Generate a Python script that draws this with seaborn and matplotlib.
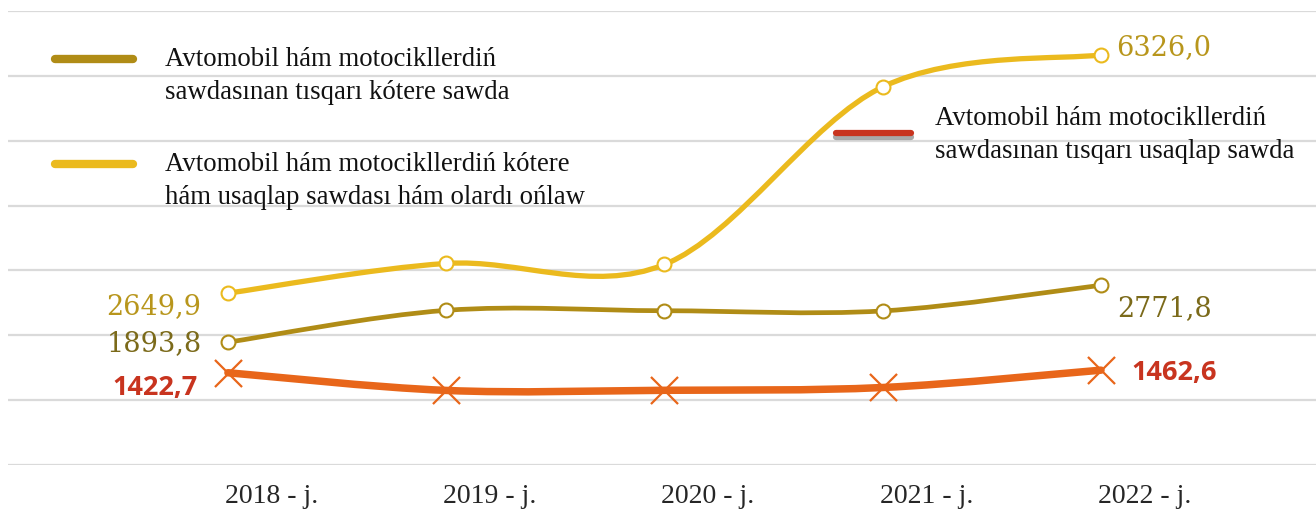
import numpy as np
import pandas as pd
import matplotlib.pyplot as plt
import seaborn as sns
from matplotlib.path import Path
from matplotlib.patches import PathPatch
from matplotlib.lines import Line2D
import matplotlib.patheffects as pe

# data
years = ["2018 - j.", "2019 - j.", "2020 - j.", "2021 - j.", "2022 - j."]
retail_repair = [2649.9, 3108.0, 3092.0, 5831.0, 6326.0]      # yellow
wholesale = [1893.8, 2385.0, 2379.0, 2376.0, 2771.8]          # olive
retail_other = [1422.7, 1150.0, 1152.0, 1195.0, 1462.6]       # orange

legend_wholesale = ["Avtomobil hám motocikllerdiń", "sawdasınan tısqarı kótere sawda"]
legend_retail_repair = ["Avtomobil hám motocikllerdiń kótere", "hám usaqlap sawdası hám olardı ońlaw"]
legend_retail_other = ["Avtomobil hám motocikllerdiń", "sawdasınan tısqarı usaqlap sawda"]

YELLOW = "#EBBA1E"
OLIVE = "#B08C16"
ORANGE = "#E8661A"
RED = "#C8341F"
GOLD_TXT = "#B8961C"
OLIVE_TXT = "#7B6A1A"

sns.set_theme(style="white")
plt.rcParams["font.family"] = ["Liberation Serif", "DejaVu Serif"]


def smooth_path(xs, ys):
    # excel-like smoothed line: catmull-rom turned into cubic bezier pieces
    xs = np.asarray(xs, float)
    ys = np.asarray(ys, float)
    n = len(xs)
    verts = [(xs[0], ys[0])]
    codes = [Path.MOVETO]
    for i in range(n - 1):
        i0 = max(i - 1, 0)
        i3 = min(i + 2, n - 1)
        c1 = (xs[i] + (xs[i + 1] - xs[i0]) / 6, ys[i] + (ys[i + 1] - ys[i0]) / 6)
        c2 = (xs[i + 1] - (xs[i3] - xs[i]) / 6, ys[i + 1] - (ys[i3] - ys[i]) / 6)
        verts += [c1, c2, (xs[i + 1], ys[i + 1])]
        codes += [Path.CURVE4] * 3
    return Path(verts, codes)


df = pd.DataFrame({"x": np.arange(len(years)), "year": years,
                   "retail_repair": retail_repair, "wholesale": wholesale,
                   "retail_other": retail_other})

fig = plt.figure(figsize=(13.16, 5.10), dpi=100)
ax = fig.add_axes([0.006, 0.0863, 0.994, 0.890])

for col, color, lw in [("retail_repair", YELLOW, 3.8),
                       ("wholesale", OLIVE, 3.4),
                       ("retail_other", ORANGE, 5.4)]:
    patch = PathPatch(smooth_path(df["x"], df[col]), fill=False, edgecolor=color,
                      lw=lw, capstyle="round", joinstyle="round", zorder=3)
    ax.add_patch(patch)

sns.scatterplot(data=df, x="x", y="retail_repair", marker="o", s=100, color="white",
                edgecolor=YELLOW, linewidth=1.5, zorder=5, ax=ax)
sns.scatterplot(data=df, x="x", y="wholesale", marker="o", s=100, color="white",
                edgecolor=OLIVE, linewidth=1.5, zorder=5, ax=ax)
sns.scatterplot(data=df, x="x", y="retail_other", marker="x", s=380, color=ORANGE,
                linewidth=1.6, zorder=5, ax=ax)

# value labels at the first and last year
def lab(x, y, txt, dx, dy, ha, color, **kw):
    ax.annotate(txt, (x, y), xytext=(dx, dy), textcoords="offset points",
                ha=ha, va="center", color=color, zorder=6, **kw)

fmt = lambda v: f"{v:.1f}".replace(".", ",")
serif_num = dict(fontsize=19.5, family=["DejaVu Serif"])
sans_bold = dict(fontsize=19.5, family=["Open Sans", "DejaVu Sans"], fontweight="bold")
lab(0, retail_repair[0], fmt(retail_repair[0]), -19, -9, "right", GOLD_TXT, **serif_num)
lab(0, wholesale[0], fmt(wholesale[0]), -19, 0, "right", OLIVE_TXT, **serif_num)
lab(0, retail_other[0], fmt(retail_other[0]), -22, -10, "right", RED, **sans_bold)
lab(4, retail_repair[-1], fmt(retail_repair[-1]), 11, 6, "left", GOLD_TXT, **serif_num)
lab(4, wholesale[-1], fmt(wholesale[-1]), 12, -16, "left", OLIVE_TXT, **serif_num)
lab(4, retail_other[-1], fmt(retail_other[-1]), 22, -1, "left", RED, **sans_bold)

ax.set_xlim(-1.008, 4.985)
ax.set_ylim(0, 7000)
ax.set_yticks(np.arange(0, 7001, 1000))
ax.set_yticklabels([])
ax.tick_params(axis="y", length=0)
ax.yaxis.grid(True, color="#DADADA", lw=1.6)
ax.set_xticks(np.arange(len(years)) + 0.2)
ax.set_xticklabels(years, fontsize=20)
ax.tick_params(axis="x", length=0, pad=13)
ax.set_xlabel("")
ax.set_ylabel("")
for s in ax.spines.values():
    s.set_visible(False)

# hand placed legend entries
W, H = 1316, 510

def legend_entry(x0, x1, y, color, lines, tx, baselines, shadow=False):
    ln = Line2D([x0 / W, x1 / W], [1 - y / H, 1 - y / H], transform=fig.transFigure,
                color=color, lw=6 if not shadow else 4.5, solid_capstyle="round")
    if shadow:
        ln.set_path_effects([pe.SimpleLineShadow(offset=(0, -3), shadow_color="#555555", alpha=0.5),
                             pe.Normal()])
    fig.add_artist(ln)
    for t, b in zip(lines, baselines):
        fig.text(tx / W, 1 - b / H, t, fontsize=19.3, va="baseline", ha="left", color="#111111")

legend_entry(55, 133, 60, OLIVE, legend_wholesale, 165, [66, 99])
legend_entry(55, 133, 165, YELLOW, legend_retail_repair, 165, [171, 204])
legend_entry(836, 911, 134, RED, legend_retail_other, 935, [125, 158], shadow=True)

fig.savefig("out.png", dpi=100)
